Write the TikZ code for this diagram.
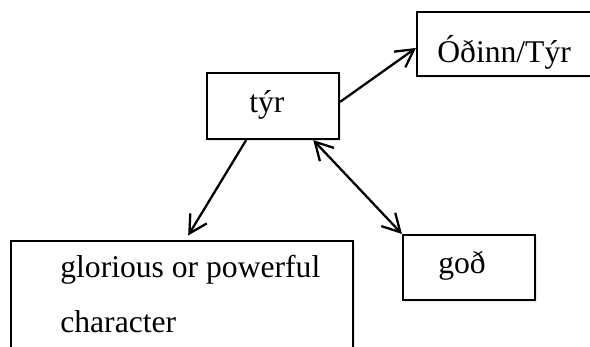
\documentclass[tikz,border=0pt]{standalone}
\usepackage{fontspec}
\setmainfont{Liberation Serif}
\usetikzlibrary{arrows.meta, calc, fit, shadows}
\tikzset{
  box/.style   = {draw, line width=1.2pt, fill=white, inner sep=0pt,
                  drop shadow={shadow xshift=1.2pt, shadow yshift=-1.2pt,
                               opacity=0.18}},
  lbl/.style   = {anchor=base west, inner sep=0pt,
                  font=\fontsize{18}{22}\selectfont},
  link/.style  = {-{Straight Barb[length=10pt, width=11pt]}, line width=1.3pt},
  dlink/.style = {{Straight Barb[length=10pt, width=11pt]}-{Straight Barb[length=10pt, width=11pt]},
                  line width=1.3pt},
}

\begin{document}
\begin{tikzpicture}[x=0.02cm, y=-0.02cm]
  \useasboundingbox (0,0) rectangle (590,347);

  % boxes
  \node[box, fit={(207,73) (339,139)}]  (tyr)   {};
  \node[box, fit={(417,12) (605,76)}]   (odinn) {};
  \node[box, fit={(11,241) (353,365)}]  (glory) {};
  \node[box, fit={(403,235) (535,300)}] (god)   {};

  % texts
  \node[lbl] (tyrtxt)   at (249,113) {týr};
  \node[lbl] (odinntxt) at (437,63)  {Óðinn/Týr};
  \node[lbl] (glory1)   at (60,277)  {glorious or powerful};
  \node[lbl] (glory2)   at (60,332)  {character};
  \node[lbl] (godtxt)   at (438,273) {goð};

  % arrows
  \draw[link] ($(tyr.north east)!0.44!(tyr.south east)$)
           -- ($(odinn.north west)!0.56!(odinn.south west)$);
  \draw[link, shorten >=3pt] ($(tyr.south west)!0.3!(tyr.south east)$)
           -- ($(glory.north west)!0.51!(glory.north east)$);
  \draw[dlink] ($(tyr.south west)!0.8!(tyr.south east)$) -- (god.north west);
\end{tikzpicture}
\end{document}
